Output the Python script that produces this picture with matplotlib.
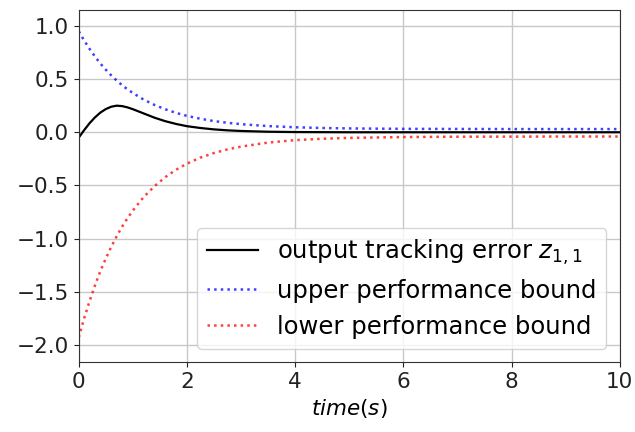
import matplotlib
matplotlib.use('Agg')
import matplotlib.pyplot as plt
import numpy as np

# sample times (s)
t = [0, 0.05, 0.1, 0.2, 0.3, 0.4, 0.5, 0.6, 0.7, 0.8, 0.9, 1.0, 1.2, 1.4, 1.6, 1.8, 2.0,
     2.25, 2.5, 2.75, 3.0, 3.5, 4.0, 4.5, 5.0, 6.0, 7.0, 8.0, 9.0, 10.0]

# output tracking error z_{1,1}
z11 = [-0.05, -0.015, 0.02, 0.085, 0.14, 0.185, 0.218, 0.24, 0.25, 0.246, 0.234, 0.217,
       0.177, 0.137, 0.104, 0.078, 0.057, 0.040, 0.027, 0.018, 0.012, 0.005, 0.002,
       0.001, 0.0, 0.0, 0.0, 0.0, 0.0, 0.0]

# upper / lower performance bounds
upper = [0.95, 0.905, 0.863, 0.784, 0.712, 0.646, 0.588, 0.535, 0.487, 0.443, 0.404,
         0.369, 0.307, 0.257, 0.216, 0.182, 0.154, 0.127, 0.105, 0.089, 0.076, 0.058,
         0.047, 0.040, 0.036, 0.032, 0.031, 0.030, 0.030, 0.030]
lower = [-1.93, -1.838, -1.750, -1.588, -1.440, -1.306, -1.187, -1.078, -0.979, -0.889,
         -0.809, -0.736, -0.609, -0.507, -0.422, -0.352, -0.295, -0.238, -0.195, -0.161,
         -0.135, -0.097, -0.074, -0.061, -0.053, -0.045, -0.042, -0.041, -0.040, -0.040]

fig = plt.figure(figsize=(6.35, 4.32), dpi=100)
ax = fig.add_axes([0.124, 0.162, 0.852, 0.815])

ax.plot(t, z11, 'k-', lw=1.6, label='output tracking error $z_{1,1}$')
ax.plot(t, upper, ':', color='blue', lw=1.8, alpha=0.75, label='upper performance bound')
ax.plot(t, lower, ':', color='red', lw=1.8, alpha=0.75, label='lower performance bound')

ax.set_xlim(0, 10)
ax.set_ylim(-2.16, 1.15)
ax.set_xticks([0, 2, 4, 6, 8, 10])
ax.set_yticks([-2.0, -1.5, -1.0, -0.5, 0.0, 0.5, 1.0])
ax.tick_params(labelsize=15.5, colors='#222222')
ax.grid(True, color='#c8c8c8', lw=1)
ax.set_xlabel('$time(s)$', fontsize=15.5)
for s in ax.spines.values():
    s.set_color('#333333')

ax.legend(loc='lower right', fontsize=17.5, framealpha=0.8, borderaxespad=0.55,
          handlelength=2.1)

plt.savefig('out.png', dpi=100)
